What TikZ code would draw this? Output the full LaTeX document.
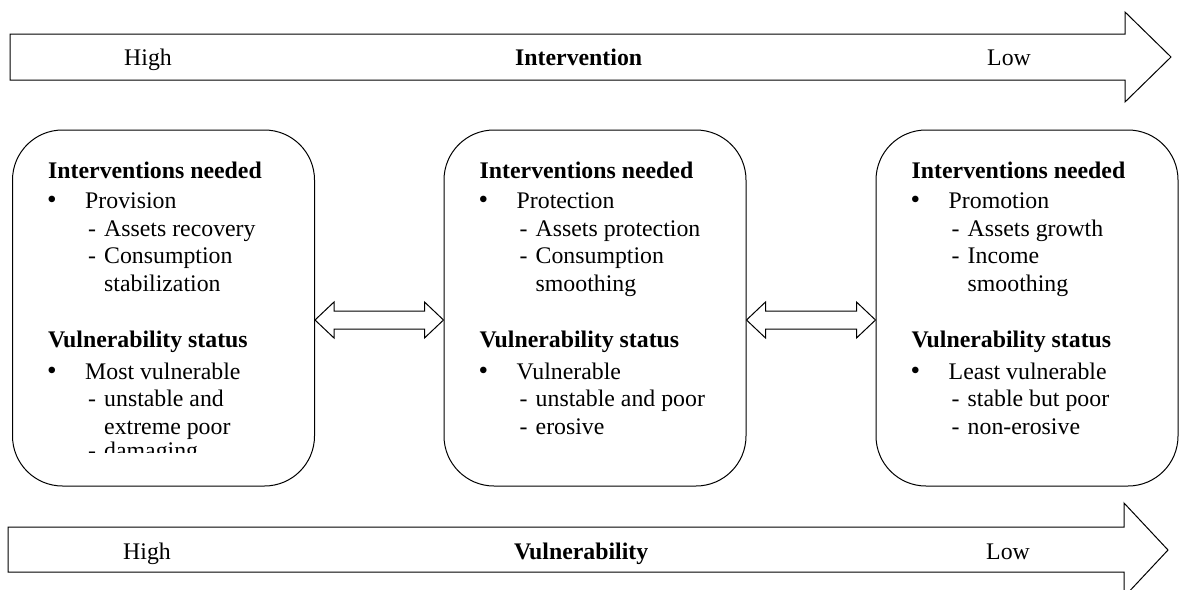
\documentclass[tikz,border=0pt]{standalone}
\usepackage{fontspec}
\setmainfont{Liberation Serif}
\usetikzlibrary{calc}

\tikzset{
  panel/.style={draw, line width=1pt, rounded corners=50pt,
    minimum width=302pt, minimum height=356pt, inner sep=0pt},
  flow/.style={draw, line width=1pt, line join=miter},
  twin/.style={draw, line width=1pt, line join=miter, fill=white},
  label/.style={anchor=base west, inner sep=0pt,
    font=\fontsize{23.8}{27.5}\selectfont},
  lead/.style={label, font=\fontsize{23.8}{27.5}\selectfont\bfseries},
}

% Lines of a panel: kind/offset below the panel top/text
% kind 0 = bold heading, 1 = bullet item, 2 = dash item, 3 = continued line
\newcommand{\panellines}[2]{%
  \foreach \kind/\dy/\txt [count=\n] in {#2} {%
    \ifcase\kind
      \node[lead] (#1-\n) at ($(#1.north west)+(36,\dy)$) {\txt};
    \or
      \node[label, scale=1.15] (#1-\n m) at ($(#1.north west)+(35,\dy)$) {\textbullet};
      \node[label] (#1-\n) at ($(#1.north west)+(73,\dy)$) {\txt};
    \or
      \node[label] (#1-\n m) at ($(#1.north west)+(76,\dy)$) {-};
      \node[label] (#1-\n) at ($(#1.north west)+(92,\dy)$) {\txt};
    \or
      \node[label] (#1-\n) at ($(#1.north west)+(92,\dy)$) {\txt};
    \fi
  }%
}

\begin{document}
\begin{tikzpicture}[x=1pt, y=-1pt]
\useasboundingbox (0,0) rectangle (1180,589);

% Intervention scale
\draw[flow] (10,34) -- (1125,34) -- (1125,12) -- (1171,57) -- (1125,102)
  -- (1125,80) -- (10,80) -- cycle;
\node[label] (ihigh) at (124,65.5) {High};
\node[lead]  (itit)  at (515,65.5) {Intervention};
\node[label] (ilow)  at (987,65.5) {Low};

% Vulnerability scale
\draw[flow] (8,527) -- (1124,527) -- (1124,503) -- (1168,550) -- (1124,597)
  -- (1124,572) -- (8,572) -- cycle;
\node[label] (vhigh) at (123,559.5) {High};
\node[lead]  (vtit)  at (514,559.5) {Vulnerability};
\node[label] (vlow)  at (986,559.5) {Low};

% Panels
\node[panel] (b1) at (163.5,308) {};
\node[panel] (b2) at (595,308) {};
\node[panel] (b3) at (1027,308) {};

\begin{scope}
  \clip (b1.north west) rectangle ([yshift=-323pt]b1.north east);
  \panellines{b1}{0/49/Interventions needed, 1/79/Provision,
    2/107/Assets recovery, 2/134/Consumption, 3/162/stabilization,
    0/218/Vulnerability status, 1/250/Most vulnerable,
    2/277/unstable and, 3/305/extreme poor, 2/329/damaging}
\end{scope}
\panellines{b2}{0/49/Interventions needed, 1/79/Protection,
  2/107/Assets protection, 2/134/Consumption, 3/162/smoothing,
  0/218/Vulnerability status, 1/250/Vulnerable,
  2/277/unstable and poor, 2/305/erosive}
\panellines{b3}{0/49/Interventions needed, 1/79/Promotion,
  2/107/Assets growth, 2/134/Income, 3/162/smoothing,
  0/218/Vulnerability status, 1/250/Least vulnerable,
  2/277/stable but poor, 2/305/non-erosive}

% Two-way links between neighbouring panels
\coordinate (l1) at ($(b1.east)+(0,12)$);
\coordinate (r1) at ($(b2.west)+(0,12)$);
\draw[twin] (l1) -- ++(19,-18) -- ++(0,9) -- ($(r1)+(-19,-9)$) -- ++(0,-9)
  -- (r1) -- ++(-19,18) -- ++(0,-9) -- ($(l1)+(19,9)$) -- ++(0,9) -- cycle;
\coordinate (l2) at ($(b2.east)+(0,12)$);
\coordinate (r2) at ($(b3.west)+(0,12)$);
\draw[twin] (l2) -- ++(19,-18) -- ++(0,9) -- ($(r2)+(-19,-9)$) -- ++(0,-9)
  -- (r2) -- ++(-19,18) -- ++(0,-9) -- ($(l2)+(19,9)$) -- ++(0,9) -- cycle;
\end{tikzpicture}
\end{document}
